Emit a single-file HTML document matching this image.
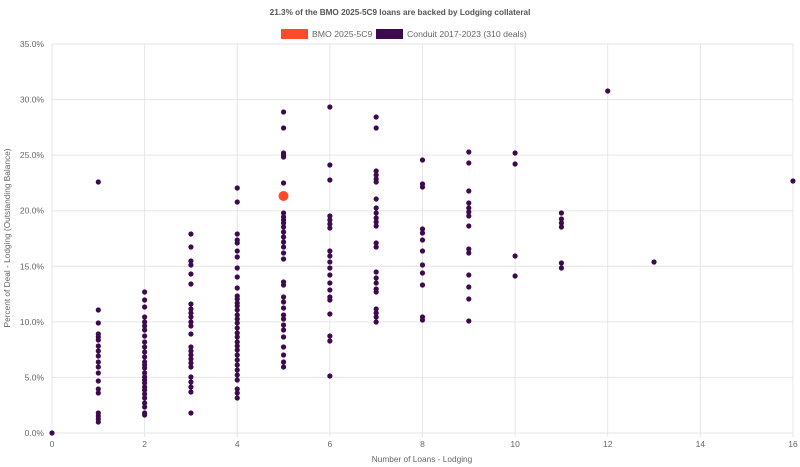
<!DOCTYPE html><html><head><style>body{margin:0;background:#fff}svg{display:block;font-family:"Liberation Sans",Arial,sans-serif}</style></head><body>
<svg width="800" height="467" viewBox="0 0 800 467" xmlns="http://www.w3.org/2000/svg">
<text x="400" y="15" text-anchor="middle" font-size="8.2" font-weight="bold" fill="#555">21.3% of the BMO 2025-5C9 loans are backed by Lodging collateral</text>
<rect x="281" y="29" width="27" height="10" fill="#FF4A2A"/><text x="312" y="37" font-size="8.7" fill="#666">BMO 2025-5C9</text>
<rect x="376" y="29" width="27" height="10" fill="#3D0A4E"/><text x="407" y="37" font-size="8.7" fill="#666">Conduit 2017-2023 (310 deals)</text>
<g stroke="#e6e6e6" stroke-width="1" id="grid"></g>
<g font-size="8.5" fill="#666" id="labels"></g>
<text x="422" y="462" text-anchor="middle" font-size="8.3" fill="#666">Number of Loans - Lodging</text>
<text transform="translate(10,238) rotate(-90)" text-anchor="middle" font-size="8.3" fill="#666">Percent of Deal - Lodging (Outstanding Balance)</text>
<g fill="#3D0A4E" id="dots"></g>
<circle cx="283.5" cy="196" r="5" fill="#FF4A2A"/>
<script>
var ns="http://www.w3.org/2000/svg",g=document.getElementById('grid'),l=document.getElementById('labels'),d=document.getElementById('dots');
function X(v){return 52+v*46.31}
function el(p,t,a,txt){var e=document.createElementNS(ns,t);for(var k in a)e.setAttribute(k,a[k]);if(txt!==undefined)e.textContent=txt;p.appendChild(e)}
for(var i=0;i<=7;i++){var y=433-i*55.57;el(g,'line',{x1:52,x2:793,y1:y,y2:y});el(l,'text',{x:44,y:y+3,'text-anchor':'end'},(i*5).toFixed(1)+'%')}
for(var v=0;v<=16;v+=2){el(g,'line',{x1:X(v),x2:X(v),y1:44,y2:437});el(l,'text',{x:X(v),y:447,'text-anchor':'middle'},String(v))}
var D={0:[433],1:[182,310,323,334,337,340,346,351,356,362,367,373,381,389,393,413,416,419,422],
2:[292,300,307,317,322,326,330,336,342,347,352,357,362,365,368,373,377,380,383,387,390,394,398,403,407,413,415],
3:[234,247,261,265,274,284,304,309,313,317,322,326,334,347,351,355,359,363,367,377,382,387,392,413],
4:[188,202,234,240,243,251,257,268,277,288,296,299,303,306,310,315,319,323,328,333,337,342,346,350,355,360,365,370,375,380,389,393,398],
5:[112,128,153,155,157,183,213,217,220,223,227,232,237,242,247,253,259,282,285,297,302,308,315,319,325,330,337,347,355,362,367],
6:[107,165,180,216,220,224,228,251,256,262,268,275,283,290,297,300,314,336,341,376],
7:[117,128,171,175,179,182,199,208,213,218,222,226,243,247,272,278,283,289,292,309,313,317,322],
8:[160,184,187,229,233,240,251,265,273,285,317,320],
9:[152,163,191,203,208,212,216,226,249,253,275,287,299,321],
10:[153,164,256,276],11:[213,219,223,227,263,268],12:[91],13:[262],16:[181]};
for(var k in D)D[k].forEach(function(y){el(d,'circle',{cx:X(+k),cy:y,r:2.6})});
</script>
</svg></body></html>
